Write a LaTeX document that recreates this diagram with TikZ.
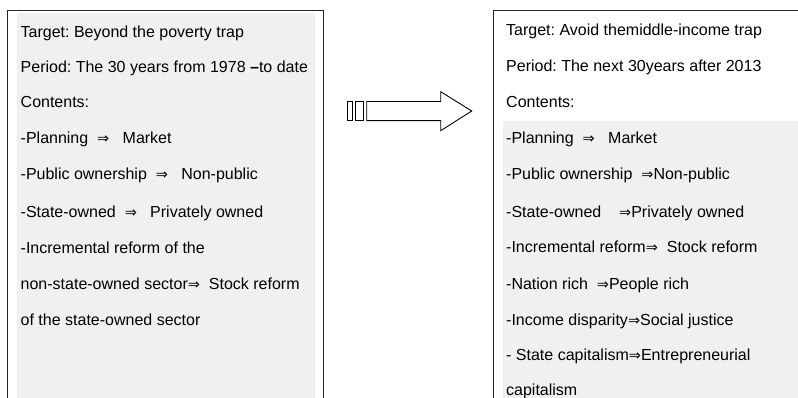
\documentclass[tikz,border=0pt]{standalone}
\usepackage{fontspec}
\setmainfont{Liberation Sans}
\newfontfamily\arrowfont{DejaVu Sans}
\definecolor{boxgray}{RGB}{240,240,240}
\newcommand{\imp}{{\arrowfont\fontsize{14.5}{14}\selectfont ⇒}}
\frenchspacing

\tikzset{
  entry/.style={anchor=base west,inner sep=0pt,font=\fontsize{16}{18}\selectfont},
  boxline/.style={draw=black!85,line width=1.3pt},
}

\begin{document}
\begin{tikzpicture}[x=1pt,y=-1pt]
\useasboundingbox (0,0) rectangle (798,398);
\clip (0,0) rectangle (798,398);

\begin{scope}
\fill[boxgray] (17,13) rectangle (315,410);
\draw[boxline] (7.5,410) -- (7.5,10.3) -- (323.7,10.3) -- (323.7,410);
\node[entry](l0) at (20.5,37.3) {Target: Beyond the poverty trap};
\node[entry](l1) at (20.5,72.7) {Period: The 30 years from 1978 {\bfseries –}to date};
\node[entry](l2) at (20.5,107.3) {Contents:};
\node[entry](l3) at (20.5,143.3) {-Planning~~\imp~~~Market};
\node[entry](l4) at (20.5,180) {-Public ownership~~\imp~~~Non-public};
\node[entry](l5) at (20.5,217.3) {-State-owned~~\imp~~~Privately owned};
\node[entry](l6) at (20.5,253.3) {-Incremental reform of the};
\node[entry](l7) at (20.5,289.3) {non-state-owned sector\imp~~Stock reform};
\node[entry](l8) at (20.5,325) {of the state-owned sector};
\end{scope}

\begin{scope}
\draw[line width=0.9pt] (347.3,101.5) rectangle (352,120.7);
\draw[line width=0.9pt] (355,101.5) rectangle (363.3,120.7);
\draw[line width=0.9pt,line join=miter] (366.7,101.5) -- (440.7,101.5) -- (440.7,91.7)
  -- (471.7,111) -- (440.7,130.7) -- (440.7,120.7) -- (366.7,120.7) -- cycle;
\end{scope}

\begin{scope}
\fill[boxgray] (502.7,121) rectangle (810,410);
\draw[boxline] (493.3,410) -- (493.3,10.3) -- (810,10.3);
\node[entry](r0) at (506,36) {Target: Avoid themiddle-income trap};
\node[entry](r1) at (506,71.7) {Period: The next 30years after 2013};
\node[entry](r2) at (506,107.3) {Contents:};
\node[entry](r3) at (506,143.3) {-Planning~~\imp~~~Market};
\node[entry](r4) at (506,180) {-Public ownership~~\imp Non-public};
\node[entry](r5) at (506,217.3) {-State-owned~~~~\imp Privately owned};
\node[entry](r6) at (506,253) {-Incremental reform\imp~~Stock reform};
\node[entry](r7) at (506,289) {-Nation rich~~\imp People rich};
\node[entry](r8) at (506,325) {-Income disparity\imp Social justice};
\node[entry](r9) at (506,360.7) {- State capitalism\imp Entrepreneurial};
\node[entry](r10) at (506,395) {capitalism};
\end{scope}

\end{tikzpicture}
\end{document}
